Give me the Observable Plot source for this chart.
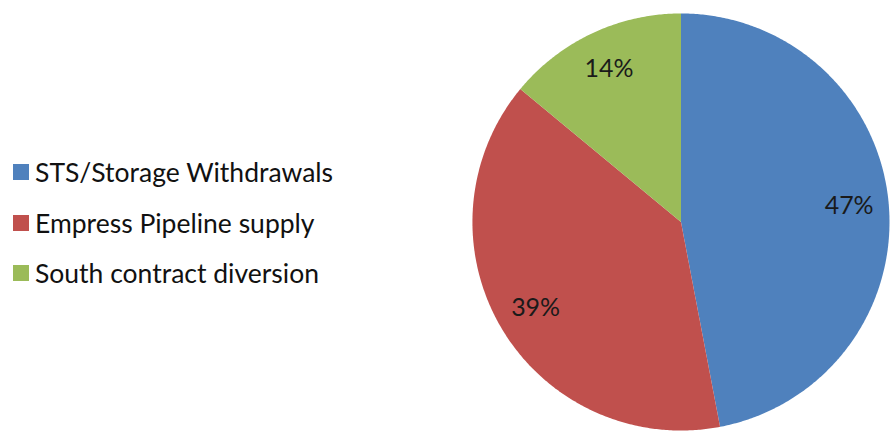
<!DOCTYPE html>
<html>
<head>
<meta charset="utf-8">
<script src="https://cdn.jsdelivr.net/npm/d3@7"></script>
<script src="https://cdn.jsdelivr.net/npm/@observablehq/plot@0.6"></script>
<style>
  html, body { margin: 0; padding: 0; background: #fff; }
  #wrap { position: relative; width: 890px; height: 432px; overflow: hidden; font-family: Lato, "Open Sans", sans-serif; }
  #legend { position: absolute; left: 13px; top: 147px; }
  .row { display: flex; align-items: center; height: 50.5px; font-size: 26.5px; color: #111; white-space: nowrap; }
  .sw { width: 16px; height: 16px; margin-right: 6px; flex: none; }
  #chart { position: absolute; left: 0; top: 0; }
</style>
</head>
<body>
<div id="wrap"><div id="chart"></div><div id="legend"></div></div>
<script>
const categories = ["STS/Storage Withdrawals", "Empress Pipeline supply", "South contract diversion"];
const values = [47, 39, 14];
const labels = ["47%", "39%", "14%"];
const colors = ["#4F81BD", "#C0504D", "#9BBB59"];

const arcs = d3.pie().sort(null).value(d => d)(values);
const features = arcs.map((a, i) => {
  const pts = [[0, 0]];
  const n = Math.max(2, Math.ceil((a.endAngle - a.startAngle) / (Math.PI / 360)));
  for (let k = 0; k <= n; k++) {
    const t = a.startAngle + (a.endAngle - a.startAngle) * k / n;
    pts.push([Math.sin(t), Math.cos(t)]);
  }
  pts.push([0, 0]);
  return {type: "Feature", properties: {category: categories[i]}, geometry: {type: "Polygon", coordinates: [pts]}};
});
const disk = {type: "FeatureCollection", features};
const labelData = arcs.map((a, i) => {
  const m = (a.startAngle + a.endAngle) / 2;
  return {label: labels[i], x: 0.81 * Math.sin(m), y: 0.81 * Math.cos(m)};
});

const plot = Plot.plot({
  width: 892,
  height: 432,
  marginLeft: 473,
  marginRight: 1,
  marginTop: 13,
  marginBottom: 1,
  projection: {type: "reflect-y", domain: disk},
  color: {domain: categories, range: colors},
  style: {background: "transparent"},
  marks: [
    Plot.geo(features, {fill: d => d.properties.category, stroke: "none"}),
    Plot.text(labelData, {x: "x", y: "y", text: "label", fontSize: 25, fill: "#1a1a1a", fontFamily: "Lato, 'Open Sans', sans-serif"})
  ]
});
document.getElementById("chart").appendChild(plot);

const color = plot.scale("color");
const legend = d3.select("#legend");
color.domain.forEach((c, i) => {
  const row = legend.append("div").attr("class", "row");
  row.append("div").attr("class", "sw").style("background", color.range[i]);
  row.append("span").text(c);
});
</script>
</body>
</html>
